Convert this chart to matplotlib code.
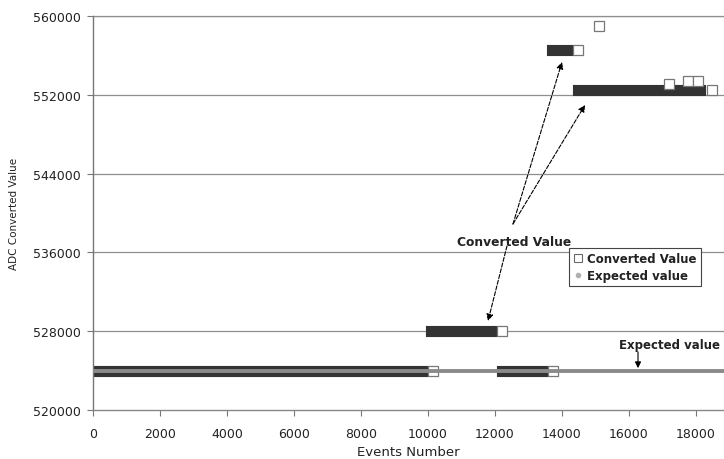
import numpy as np
from matplotlib import pyplot as plt
from matplotlib.lines import Line2D

'''ADC converted value vs events number, converted runs against expected level'''

# converted value runs: dense stretches of samples at one level
run_start = [0, 10090, 12210, 13700, 14480]
run_end = [9850, 11910, 13430, 14180, 18120]
run_last = [10150, 12210, 13730, 14480, 18480]   # last sample of each run
run_value = [524000, 528000, 524000, 556500, 552500]

# isolated converted samples
single_x = [15100, 17190, 17760, 18060]
single_y = [559000, 553100, 553400, 553400]

expected_x = [0, 18836]
expected_y = [524000, 524000]

x_ticks = list(range(0, 18001, 2000))
y_ticks = list(range(520000, 560001, 8000))

fig = plt.figure(figsize=(7.24, 4.6), dpi=100)
ax = fig.add_axes([93/724, 1-411/460, 1-93/724, 394/460])

ax.set_xlim(0, 18836)
ax.set_ylim(520000, 560000)

for yt in y_ticks[1:]:
    ax.axhline(yt, color='#8f8f8f', lw=0.9, zorder=1)

# dense runs drawn as thick bars, last sample as a hollow square
ax.hlines(run_value, run_start, run_end, colors='#333333', lw=8,
          zorder=2, capstyle='projecting')
ax.plot(run_last, run_value, 's', ms=7.4, mfc='white', mec='#777777',
        mew=0.9, ls='none', zorder=3)
ax.plot(single_x, single_y, 's', ms=7.4, mfc='white', mec='#777777',
        mew=0.9, ls='none', zorder=3)

ax.plot(expected_x, expected_y, color='#8a8a8a', lw=2.8, zorder=4)

# annotations
arrow = dict(arrowstyle='-|>', ls='--', lw=0.8, color='black',
             mutation_scale=10, shrinkA=0, shrinkB=0)
ax.annotate('', xy=(14000, 555330), xytext=(12537, 538883), arrowprops=arrow, zorder=5)
ax.annotate('', xy=(14687, 550964), xytext=(12537, 538883), arrowprops=arrow, zorder=5)
ax.annotate('', xy=(11791, 529035), xytext=(12358, 536650), arrowprops=arrow, zorder=5)
ax.text(10866, 537157, 'Converted Value', fontsize=8.8, fontweight='bold',
        color='#222222', va='center', ha='left')

arrow2 = dict(arrowstyle='-|>', lw=0.8, color='black', mutation_scale=9,
              shrinkA=0, shrinkB=0)
ax.annotate('', xy=(16269, 524250), xytext=(16269, 525900), arrowprops=arrow2, zorder=5)
ax.text(15700, 526700, 'Expected value', fontsize=8.5, fontweight='bold',
        color='#222222', va='center', ha='left', clip_on=False)

# legend
handles = [Line2D([], [], marker='s', ls='none', ms=6, mfc='white', mec='#6a6a6a', mew=0.8),
           Line2D([], [], marker='o', ls='none', ms=3, mfc='#b0b0b0', mec='#b0b0b0')]
leg = ax.legend(handles, ['Converted Value', 'Expected value'],
                loc='upper left', bbox_to_anchor=(0.754, 0.411),
                prop={'size': 8.5, 'weight': 'bold'}, fancybox=False,
                framealpha=1, edgecolor='#444444', borderpad=0.35,
                handlelength=0.8, handletextpad=0.4, labelspacing=0.35,
                borderaxespad=0)
leg.get_frame().set_linewidth(0.8)
for t in leg.get_texts():
    t.set_color('#222222')

ax.set_xticks(x_ticks)
ax.set_yticks(y_ticks)
ax.tick_params(axis='both', direction='out', length=4, width=0.8,
               color='#777777', labelsize=9, labelcolor='#222222')
ax.tick_params(axis='y', pad=5)
ax.tick_params(axis='x', pad=8)

ax.set_xlabel('Events Number', fontsize=9.5, color='#222222', labelpad=4)
ax.set_ylabel('ADC Converted Value', fontsize=7.5, color='#222222', labelpad=10)

for s in ['top', 'right']:
    ax.spines[s].set_visible(False)
ax.spines['left'].set_color('#777777')
ax.spines['bottom'].set_color('#888888')
ax.spines['left'].set_linewidth(1)
ax.spines['bottom'].set_linewidth(1)

# top gridline at 560000 acts as frame line
ax.axhline(560000, color='#8f8f8f', lw=0.9, zorder=1, clip_on=False)

fig.savefig('out.png', dpi=100)
